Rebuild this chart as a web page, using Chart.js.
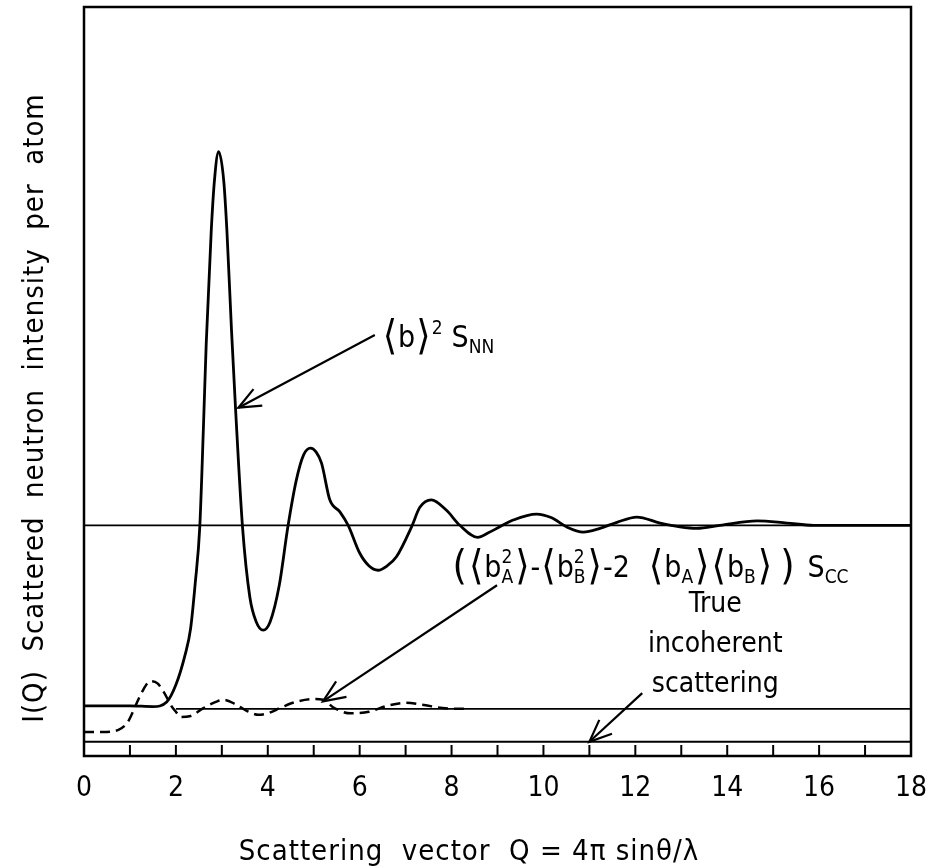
<!DOCTYPE html>
<html>
<head>
<meta charset="utf-8">
<script src="https://cdn.jsdelivr.net/npm/chart.js@4.4.1/dist/chart.umd.min.js"></script>
<style>
  body { margin: 0; background: #fff; }
  #wrap { width: 935px; height: 867px; }
</style>
</head>
<body>
<div id="wrap"><canvas id="myChart" width="935" height="867"></canvas></div>
<script>
// Q values (scattering vector) and intensities (arbitrary units)
const qNN = [0, 0.5, 1.0, 1.5, 1.8, 2.0, 2.2, 2.32, 2.42, 2.52, 2.6, 2.66, 2.77, 2.84, 2.93, 3.04, 3.11, 3.21, 3.30, 3.45, 3.61, 3.75, 3.90, 4.05, 4.25, 4.44, 4.62, 4.78, 4.93, 5.05, 5.17, 5.35, 5.57, 5.75, 6.0, 6.2, 6.40, 6.6, 6.80, 7.13, 7.31, 7.56, 7.89, 8.18, 8.57, 8.8, 9.05, 9.34, 9.85, 10.18, 10.5, 10.87, 11.23, 11.6, 12.03, 12.54, 12.97, 13.34, 13.84, 14.65, 15.3, 15.88, 17.0, 18.0];
const sNN = [0.67, 0.67, 0.67, 0.66, 0.72, 0.95, 1.35, 1.7, 2.3, 3.06, 4.4, 5.5, 7.02, 7.69, 8.07, 7.69, 7.02, 5.69, 4.62, 3.06, 2.12, 1.79, 1.68, 1.79, 2.28, 3.07, 3.68, 4.02, 4.11, 4.06, 3.91, 3.42, 3.26, 3.08, 2.71, 2.54, 2.48, 2.54, 2.66, 3.06, 3.32, 3.42, 3.28, 3.08, 2.92, 2.98, 3.06, 3.15, 3.23, 3.18, 3.06, 2.99, 3.04, 3.12, 3.19, 3.11, 3.06, 3.04, 3.08, 3.14, 3.11, 3.08, 3.08, 3.08];

const qCC = [0, 0.4, 0.75, 0.95, 1.1, 1.25, 1.45, 1.6, 1.75, 1.9, 2.0, 2.1, 2.3, 2.6, 2.9, 3.05, 3.3, 3.55, 3.8, 4.0, 4.3, 4.6, 5.0, 5.2, 5.45, 5.8, 6.2, 6.6, 7.0, 7.4, 7.8, 8.1, 8.4];
const sCC = [0.32, 0.32, 0.35, 0.45, 0.64, 0.84, 1.0, 0.97, 0.84, 0.67, 0.59, 0.52, 0.53, 0.64, 0.73, 0.75, 0.69, 0.60, 0.55, 0.57, 0.65, 0.72, 0.76, 0.75, 0.64, 0.57, 0.59, 0.67, 0.71, 0.68, 0.64, 0.63, 0.63];

// horizontal reference levels
const levelNN = 3.08;     // <b>^2 S_NN limit
const levelCC = 0.63;     // S_CC baseline
const levelInc = 0.19;    // true incoherent scattering
const ccStart = 2;

const xTickLabels = [0, 2, 4, 6, 8, 10, 12, 14, 16, 18];

const FONT = '"DejaVu Sans Condensed", "DejaVu Sans", sans-serif';
const LA = '\u27E8', RA = '\u27E9';

function pts(xs, ys) { return xs.map((q, i) => ({ x: q, y: ys[i] })); }

function arrow(ctx, x1, y1, x2, y2) {
  ctx.beginPath(); ctx.moveTo(x1, y1); ctx.lineTo(x2, y2); ctx.stroke();
  const ang = Math.atan2(y2 - y1, x2 - x1), len = 24, spread = 0.4;
  ctx.beginPath();
  ctx.moveTo(x2 - len * Math.cos(ang - spread), y2 - len * Math.sin(ang - spread));
  ctx.lineTo(x2, y2);
  ctx.lineTo(x2 - len * Math.cos(ang + spread), y2 - len * Math.sin(ang + spread));
  ctx.stroke();
}

// parts: strings = normal text, {br} = big bracket, {sup, sub} = stacked scripts, {gap} = space
function rich(ctx, x0, yBase, parts, size) {
  let cx = x0;
  ctx.textAlign = 'left'; ctx.textBaseline = 'alphabetic';
  for (const p of parts) {
    if (typeof p === 'string') {
      ctx.font = size + 'px ' + FONT;
      ctx.fillText(p, cx, yBase);
      cx += ctx.measureText(p).width;
    } else if (p.br) {
      ctx.font = Math.round(size * 1.35) + 'px ' + FONT;
      ctx.fillText(p.br, cx + 1, yBase + 2);
      cx += ctx.measureText(p.br).width + 2;
    } else if (p.gap) {
      cx += p.gap;
    } else {
      ctx.font = Math.round(size * 0.64) + 'px ' + FONT;
      let w = 0;
      if (p.sup) { ctx.fillText(p.sup, cx, yBase - size * 0.45); w = Math.max(w, ctx.measureText(p.sup).width); }
      if (p.sub) { ctx.fillText(p.sub, cx, yBase + size * 0.2); w = Math.max(w, ctx.measureText(p.sub).width); }
      cx += w + 1;
    }
  }
}

const annot = {
  id: 'annot',
  afterDraw(chart) {
    const { ctx, chartArea: a, scales: { x, y } } = chart;
    const X = v => x.getPixelForValue(v), Y = v => y.getPixelForValue(v);
    ctx.save();
    ctx.strokeStyle = '#000'; ctx.fillStyle = '#000';
    ctx.lineWidth = 2.5;
    ctx.strokeRect(a.left, a.top, a.right - a.left, a.bottom - a.top);

    // ruler ticks along the bottom
    ctx.lineWidth = 2;
    for (let q = 1; q < 18; q++) {
      ctx.beginPath(); ctx.moveTo(X(q), a.bottom); ctx.lineTo(X(q), a.bottom - 11); ctx.stroke();
    }
    // small tick on the left axis
    ctx.beginPath(); ctx.moveTo(a.left, Y(sCC[0])); ctx.lineTo(a.left + 6, Y(sCC[0])); ctx.stroke();

    // arrows
    ctx.lineWidth = 2.2;
    arrow(ctx, X(6.33), Y(5.62), X(3.36), Y(4.65));
    arrow(ctx, X(8.99), Y(2.28), X(5.20), Y(0.73));
    arrow(ctx, X(12.15), Y(0.84), X(11.0), Y(levelInc));

    // labels
    rich(ctx, X(6.48), Y(5.46), [{ br: LA }, 'b', { br: RA }, { sup: '2' }, { gap: 8 }, 'S', { sub: 'NN' }], 30);
    rich(ctx, X(8.0), Y(2.39), [{ br: '(' }, { br: LA }, 'b', { sup: '2', sub: 'A' }, { br: RA }, '-',
      { br: LA }, 'b', { sup: '2', sub: 'B' }, { br: RA }, '-2', { gap: 18 },
      { br: LA }, 'b', { sub: 'A' }, { br: RA }, { br: LA }, 'b', { sub: 'B' }, { br: RA }, { gap: 6 },
      { br: ')' }, { gap: 12 }, 'S', { sub: 'CC' }], 30);

    ctx.font = '28px ' + FONT; ctx.textAlign = 'center'; ctx.textBaseline = 'alphabetic';
    ctx.fillText('True', X(13.74), Y(1.92));
    ctx.fillText('incoherent', X(13.74), Y(1.39));
    ctx.fillText('scattering', X(13.74), Y(0.85));

    // axis titles
    ctx.font = '29px ' + FONT; ctx.textBaseline = 'middle';
    ctx.letterSpacing = '1px';
    ctx.fillText('Scattering  vector  Q = 4\u03C0 sin\u03B8/\u03BB', 469, 852);
    ctx.translate(35, 408); ctx.rotate(-Math.PI / 2);
    ctx.fillText('I(Q)  Scattered  neutron  intensity  per  atom', 0, 0);
    ctx.restore();
  }
};

const line = { borderColor: '#000', pointRadius: 0, fill: false };

new Chart('myChart', {
  type: 'line',
  data: {
    datasets: [
      { ...line, label: 'SNN', data: pts(qNN, sNN), borderWidth: 2.8, cubicInterpolationMode: 'monotone' },
      { ...line, label: 'SCC', data: pts(qCC, sCC), borderWidth: 2.5, borderDash: [10, 6], cubicInterpolationMode: 'monotone' },
      { ...line, label: 'NN level', data: [{ x: 0, y: levelNN }, { x: 18, y: levelNN }], borderWidth: 1.8 },
      { ...line, label: 'CC level', data: [{ x: ccStart, y: levelCC }, { x: 18, y: levelCC }], borderWidth: 1.8 },
      { ...line, label: 'incoherent', data: [{ x: 0, y: levelInc }, { x: 18, y: levelInc }], borderWidth: 2.2 }
    ]
  },
  options: {
    responsive: false,
    animation: false,
    layout: { padding: { top: 7, right: 24, left: 0, bottom: 0 } },
    plugins: { legend: { display: false }, tooltip: { enabled: false } },
    scales: {
      x: {
        type: 'linear', min: 0, max: 18,
        grid: { display: false },
        border: { display: false },
        afterFit: s => { s.height = 111; s.paddingLeft = 0; s.paddingRight = 0; },
        afterBuildTicks: s => { s.ticks = xTickLabels.map(v => ({ value: v })); },
        ticks: { color: '#000', padding: 8, maxRotation: 0, font: { family: FONT, size: 28 } }
      },
      y: {
        min: 0, max: 10,
        grid: { display: false },
        border: { display: false },
        ticks: { display: false },
        afterFit: s => { s.width = 84; }
      }
    }
  },
  plugins: [annot]
});
</script>
</body>
</html>
